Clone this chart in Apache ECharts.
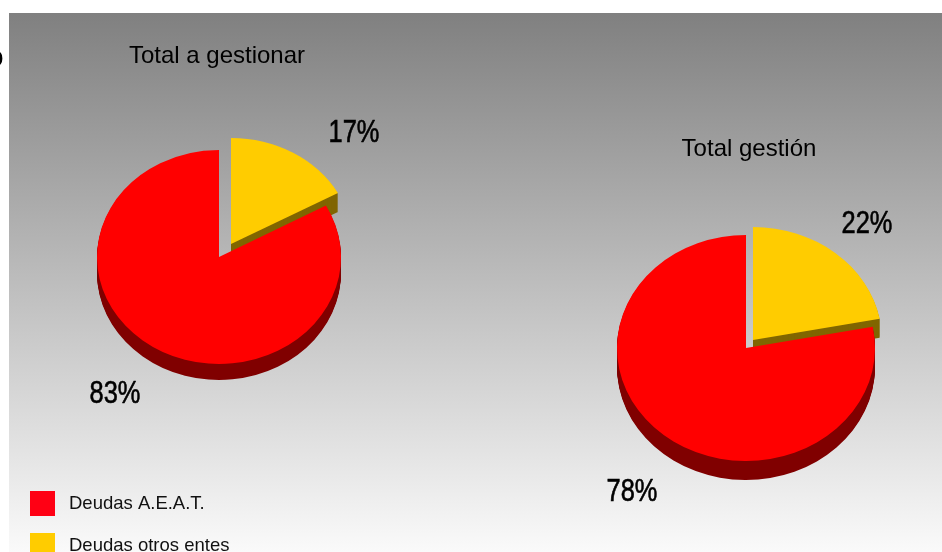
<!DOCTYPE html>
<html><head><meta charset="utf-8">
<style>html,body{margin:0;padding:0;background:#fff}#c{width:942px;height:552px}</style>
<script src="https://cdn.jsdelivr.net/npm/echarts@6/dist/echarts.min.js"></script>
</head><body><div id="c"></div>
<script>
const categories = ['Deudas A.E.A.T.', 'Deudas otros entes'];
const pieTitles = ['Total a gestionar', 'Total gestión'];
const aeatValues = [83, 78];
const otrosValues = [17, 22];

const pies = [
  {red:{x:219,y:257,rx:122,ry:107,depth:16}, yel:{x:231,y:244,rx:122,ry:106,depth:19},
   redLabel:[115,394], yelLabel:[354,133], title:[212,51]},
  {red:{x:746,y:348,rx:129,ry:113,depth:19}, yel:{x:753,y:340,rx:129,ry:113,depth:19},
   redLabel:[632,492], yelLabel:[867,224], title:[744,144]}
];
const palette = {red:['#ff0000','#800000'], yel:['#ffcc00','#806600']};

function render(kind, values, others){
  return function(params, api){
    const i = api.value(0), v = api.value(1);
    const total = v + others[i];
    const p = pies[i], g = p[kind];
    const a0 = kind === 'yel' ? -Math.PI/2 : -Math.PI/2 + 2*Math.PI*others[i]/total;
    const a1 = a0 + 2*Math.PI*v/total;
    const children = [];
    const sector = (dy, fill) => ({
      type:'sector', x:g.x, y:g.y+dy, scaleY:g.ry/g.rx,
      shape:{cx:0,cy:0,r0:0,r:g.rx,startAngle:a0,endAngle:a1,clockwise:true},
      style:{fill:fill}
    });
    for(let d=g.depth; d>=1; d--) children.push(sector(d, palette[kind][1]));
    children.push(sector(0, palette[kind][0]));
    const lab = kind==='red' ? p.redLabel : p.yelLabel;
    children.push({type:'text', x:lab[0], y:lab[1], scaleX:0.82, z2:10, style:{
      text:Math.round(v/total*100)+'%', align:'center', verticalAlign:'middle',
      font:'31px "Liberation Sans"', fill:'#000', stroke:'#000', lineWidth:0.6}});
    return {type:'group', children:children};
  };
}

const chart = echarts.init(document.getElementById('c'), null, {renderer:'canvas'});
chart.setOption({
  animation:false,
  backgroundColor:'#ffffff',
  graphic:[
    {type:'rect', z:0, shape:{x:9,y:13,width:933,height:539},
     style:{fill:new echarts.graphic.LinearGradient(0,0,0,1,[
       {offset:0,color:'#808080'},{offset:1,color:'#fafafa'}])}},
    {type:'text', z:1, x:-12, y:58, style:{text:'o', font:'28px "Liberation Sans"', fill:'#000', verticalAlign:'middle'}}
  ],
  title:pieTitles.map((t,i)=>({
    text:t, left:pies[i].title[0], top:pies[i].title[1], textAlign:'center', textVerticalAlign:'middle',
    textStyle:{fontFamily:'Liberation Sans',fontWeight:'normal',fontSize:24,color:'#000'}
  })),
  legend:[
    {left:30, top:491, itemWidth:25, itemHeight:25, icon:'rect', selectedMode:false, padding:0,
     textStyle:{fontFamily:'Liberation Sans',fontSize:18.5,color:'#111',padding:[4,0,0,9]},
     data:[{name:categories[0],itemStyle:{color:'#ff0014'}}]},
    {left:30, top:533, itemWidth:25, itemHeight:25, icon:'rect', selectedMode:false, padding:0,
     textStyle:{fontFamily:'Liberation Sans',fontSize:18.5,color:'#111',padding:[0,0,0,9]},
     data:[{name:categories[1]}]}
  ],
  series:[
    {type:'custom', name:categories[1], coordinateSystem:'none', z:2, itemStyle:{color:palette.yel[0]},
     data:otrosValues.map((v,i)=>[i,v]), renderItem:render('yel',otrosValues,aeatValues)},
    {type:'custom', name:categories[0], coordinateSystem:'none', z:3, itemStyle:{color:palette.red[0]},
     data:aeatValues.map((v,i)=>[i,v]), renderItem:render('red',aeatValues,otrosValues)}
  ]
});
</script></body></html>
